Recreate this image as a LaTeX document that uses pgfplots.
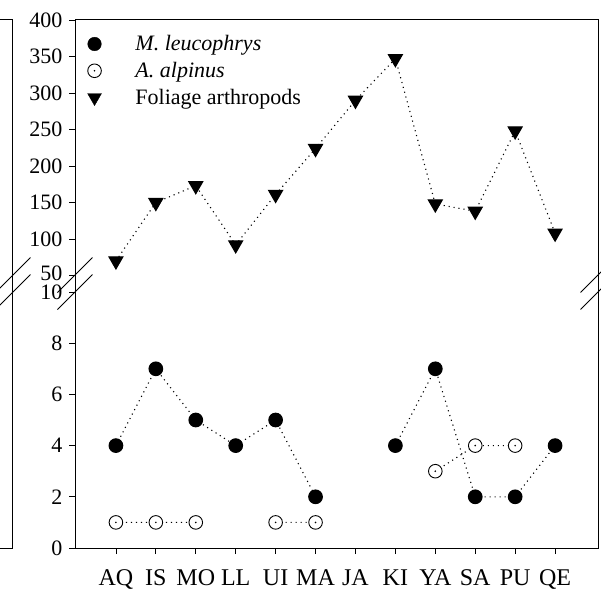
\documentclass[border=0pt]{standalone}
\usepackage{pgfplots}
\pgfplotsset{compat=1.18}
\usepackage{pgfplotstable}
\usepackage{fontspec}
\setmainfont{Liberation Serif}

\pgfdeclareplotmark{odot}{%
  \pgfpathcircle{\pgfpointorigin}{\pgfplotmarksize}\pgfusepathqfillstroke
  \pgfscope
  \pgfsetfillcolor{black}%
  \pgfpathcircle{\pgfpointorigin}{0.9pt}\pgfusepathqfill
  \endpgfscope}

\pgfplotstableread{
x fol ml aa
0 70 4 1
1 150 7 1
2 173 5 1
3 92 4 nan
4 161 5 1
5 224 2 1
6 290 nan nan
7 347 4 nan
8 148 7 3
9 138 2 4
10 248 2 4
11 108 4 nan
}\data

\pgfplotsset{
  base/.style={
    scale only axis, width=523pt,
    xmin=-1.025, xmax=12.075,
    axis line style={draw=none},
    tick style={black, line width=0.8pt},
    tick align=outside, ytick pos=left, xtick pos=bottom,
    major tick length=6pt,
    unbounded coords=jump,
    /pgf/number format/assume math mode=true,
    yticklabel style={font=\fontsize{22}{26}\selectfont, xshift=-3pt, inner ysep=0pt},
    xticklabel style={font=\fontsize{24}{28}\selectfont, yshift=-12pt},
    clip=false,
  },
  dotline/.style={black, line width=1.1pt, dash pattern=on 1.1pt off 3.9pt},
}

\begin{document}
\begin{tikzpicture}
\useasboundingbox (-75pt,-47pt) rectangle (526pt,548pt);

\begin{axis}[base, name=bot, at={(0pt,0pt)}, anchor=south west,
  height=256pt, ymin=0, ymax=10, ytick={0,2,...,10},
  yticklabel={\ifdim\tick pt=10pt \raisebox{-4pt}{10}\else\pgfmathprintnumber{\tick}\fi},
  xtick={0,...,11},
  xticklabels={AQ,IS,MO,LL,UI,MA,JA,KI,YA,SA,PU,QE},
]
\addplot[dotline, mark=*, mark size=6.8pt, mark options={solid, fill=black}] table[x=x,y=ml]{\data};
\addplot[dotline, mark=odot, mark size=6.8pt, mark options={solid, fill=white, line width=0.9pt}] table[x=x,y=aa]{\data};
\end{axis}

\begin{axis}[base, name=top, at={(0pt,256pt)}, anchor=south west,
  height=272pt, ymin=27.4, ymax=400, ytick={50,100,...,400},
  yticklabel={\ifdim\tick pt=50pt \raisebox{4pt}{50}\else\pgfmathprintnumber{\tick}\fi},
  xtick=\empty,
  legend style={at={(0.018,0.958)}, anchor=north west, draw=none, fill=none,
    font=\fontsize{22}{26}\selectfont, row sep=6pt,
    /tikz/every odd column/.append style={column sep=32pt}},
  legend cell align=left,
]
\addlegendimage{only marks, mark=*, mark size=6.8pt, black}
\addlegendimage{only marks, mark=odot, mark size=6.8pt, black, mark options={fill=white, line width=0.9pt}}
\addlegendimage{only marks, mark=triangle*, mark size=8pt, black, mark options={rotate=180}}
\addplot[dotline, forget plot, mark=triangle*, mark size=8pt, mark options={solid, rotate=180, fill=black}] table[x=x,y=fol]{\data};
\legend{\textit{M. leucophrys}, \textit{A. alpinus}, Foliage arthropods}
\end{axis}

% frame
\draw[line width=1pt, black] (bot.south west) rectangle (top.north east);
% break marks
\foreach \xx in {0,523,-62}{
  \draw[line width=0.9pt] (\xx pt-17.5pt,238.5pt) -- (\xx pt+17.5pt,273.5pt);
  \draw[line width=0.9pt] (\xx pt-17.5pt,255.5pt) -- (\xx pt+17.5pt,290.5pt);
}
% neighbouring panel edge
\draw[line width=1pt] (-80pt,528pt) -- (-62pt,528pt) -- (-62pt,0pt) -- (-80pt,0pt);
\end{tikzpicture}
\end{document}
